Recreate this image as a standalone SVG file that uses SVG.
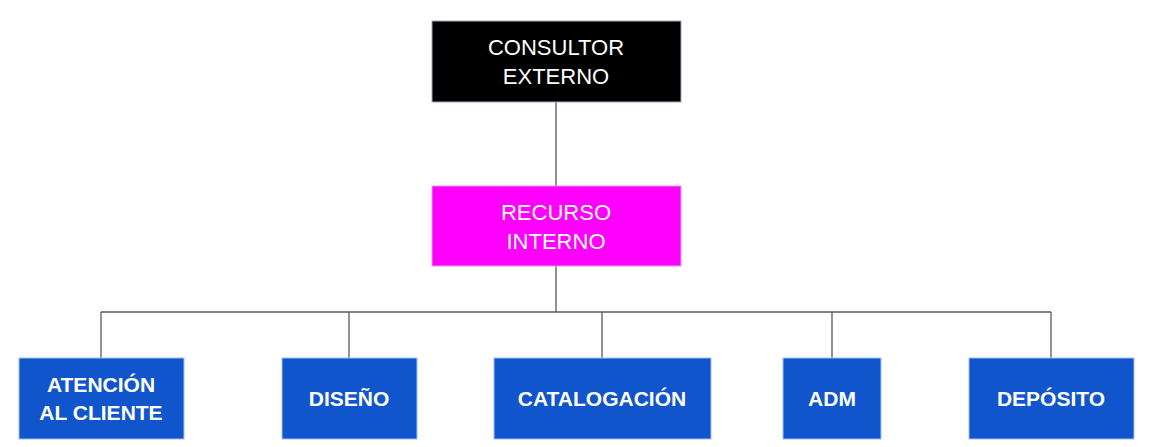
<svg xmlns="http://www.w3.org/2000/svg" width="1151" height="447" viewBox="0 0 1151 447">
<style>
.t{font-family:"Liberation Sans",Arial,sans-serif;fill:#fff;text-anchor:middle}
.r{font-size:22px}
.b{font-size:21px;font-weight:bold}
.bx{fill:#1155cc;stroke:#a4c2f4;stroke-width:1}
.c{stroke:#595959;stroke-width:1.3;fill:none}
</style>
<rect width="1151" height="447" fill="#fff"/>
<g id="connectors">
<path class="c" d="M556 102V186M556 266V312M101 312H1051M101 312V358M349 312V358M602 312V358M832 312V358M1051 312V358"/>
</g>
<g id="consultor"><rect x="432" y="21" width="249" height="81" fill="#000" stroke="#a4a4c4"/><text class="t r" x="556" y="55">CONSULTOR</text><text class="t r" x="556" y="84">EXTERNO</text></g>
<g id="recurso"><rect x="432" y="186" width="249" height="80" fill="#ff00ff" stroke="#e0a0e0"/><text class="t r" x="556" y="220">RECURSO</text><text class="t r" x="556" y="249">INTERNO</text></g>
<g id="atencion"><rect class="bx" x="19" y="358" width="165" height="81"/><text class="t b" x="101" y="392">ATENCIÓN</text><text class="t b" x="101" y="420">AL CLIENTE</text></g>
<g id="diseno"><rect class="bx" x="282" y="358" width="135" height="81"/><text class="t b" x="349" y="406">DISEÑO</text></g>
<g id="catalogacion"><rect class="bx" x="494" y="358" width="217" height="81"/><text class="t b" x="602" y="406">CATALOGACIÓN</text></g>
<g id="adm"><rect class="bx" x="783" y="358" width="98" height="81"/><text class="t b" x="832" y="406">ADM</text></g>
<g id="deposito"><rect class="bx" x="969" y="358" width="165" height="81"/><text class="t b" x="1051" y="406">DEPÓSITO</text></g>
</svg>
